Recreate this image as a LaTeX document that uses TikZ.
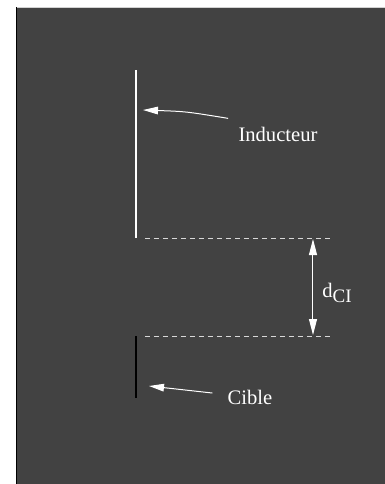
\documentclass[tikz,border=0pt]{standalone}
\usepackage{fontspec}
\setmainfont{Liberation Serif}
\usetikzlibrary{arrows.meta}
\definecolor{fond}{HTML}{424242}
\definecolor{tirets}{HTML}{D8D8D8}
\begin{document}
\begin{tikzpicture}[x=0.5pt,y=-0.5pt,
    plaque/.style={line width=1pt},
    fleche/.style={white,line width=0.5pt,-{Triangle[length=7.5pt,width=3.8pt]}},
    cote/.style={white,line width=0.5pt,{Triangle[length=8pt,width=4pt]}-{Triangle[length=8pt,width=4pt]}},
    pointille/.style={tirets,line width=0.5pt,dash pattern=on 2.5pt off 2pt},
    etiquette/.style={text=white,inner sep=0pt,font=\fontsize{10.3}{12}\selectfont}]
	\useasboundingbox (0,0) rectangle (385,484);
	\fill[white] (0,0) rectangle (385,484);
	\fill[fond] (16,7) rectangle (385,484);
	\draw[gray!35,line width=0.8pt] (16,7.5) -- (385,7.5);
	\draw[black,line width=0.8pt] (16.5,7) -- (16.5,484);
	% inducteur et cible
	\coordinate (ihaut) at (136,70);
	\coordinate (ibas) at (136,238);
	\coordinate (chaut) at (136,336);
	\coordinate (cbas) at (136,398);
	\draw[plaque,white] (ihaut) -- (ibas);
	\draw[plaque,black] (chaut) -- (cbas);
	% distance
	\coordinate (d1) at (330,238);
	\coordinate (d2) at (330,336);
	\draw[pointille] (145,238) -- (d1);
	\draw[pointille] (145,336) -- (d2);
	\draw[cote] (313,239) -- (313,335);
	\node[etiquette,anchor=west] (dci) at (322,293) {d\raisebox{-0.6ex}{\fontsize{9.5}{10}\selectfont CI}};
	% etiquettes
	\node[etiquette] (ind) at (278,134) {Inducteur};
	\node[etiquette] (cib) at (250,397) {Cible};
	\coordinate (ipt) at (143,110);
	\coordinate (cpt) at (149,386);
	\draw[fleche] ([shift={(-10,-8)}]ind.north west) .. controls (186,111.5) .. (ipt);
	\draw[fleche] ([shift={(-15,-4)}]cib.west) -- (cpt);
\end{tikzpicture}
\end{document}
